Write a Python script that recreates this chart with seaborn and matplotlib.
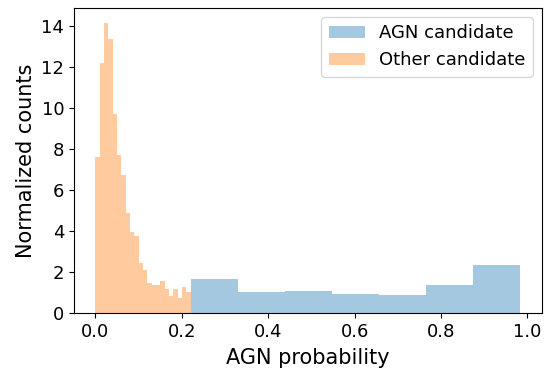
import numpy as np
import pandas as pd
import matplotlib
matplotlib.use("Agg")
import matplotlib.pyplot as plt
import seaborn as sns

# Normalized histogram heights (density) per bin
agn_range = (0.2208, 0.9837)
agn_heights = [1.645, 1.01, 1.06, 0.913, 0.864, 1.35, 2.33]

other_range = (0.0, 0.2208)
other_heights = [7.62, 12.19, 14.15, 13.36, 9.70, 7.70, 6.72, 4.88, 3.96, 3.75,
                 2.44, 2.08, 1.45, 1.34, 1.34, 1.55, 1.16, 0.82, 1.16, 0.72,
                 1.25, 1.01]

series_labels = ["AGN candidate", "Other candidate"]


def binned_frame(lo, hi, heights):
    edges = np.linspace(lo, hi, len(heights) + 1)
    centers = 0.5 * (edges[:-1] + edges[1:])
    return pd.DataFrame({"prob": centers, "height": heights})


agn_df = binned_frame(*agn_range, agn_heights)
other_df = binned_frame(*other_range, other_heights)

fig = plt.figure(figsize=(5.48, 3.68), dpi=100)
ax = fig.add_axes([0.135, 0.150, 0.8535, 0.828])

sns.histplot(data=agn_df, x="prob", weights="height",
             bins=len(agn_heights), binrange=agn_range,
             stat="count", color="C0", alpha=0.4, linewidth=0,
             label=series_labels[0], ax=ax)
sns.histplot(data=other_df, x="prob", weights="height",
             bins=len(other_heights), binrange=other_range,
             stat="count", color="C1", alpha=0.4, linewidth=0,
             label=series_labels[1], ax=ax)

ax.set_xlabel("AGN probability", fontsize=15, labelpad=5.5)
ax.set_ylabel("Normalized counts", fontsize=15)
ax.tick_params(labelsize=13)
ax.set_xticks([0.0, 0.2, 0.4, 0.6, 0.8, 1.0])
ax.set_yticks(range(0, 15, 2))
ax.legend(fontsize=13, loc="upper right")

fig.savefig("out.png", dpi=100)
